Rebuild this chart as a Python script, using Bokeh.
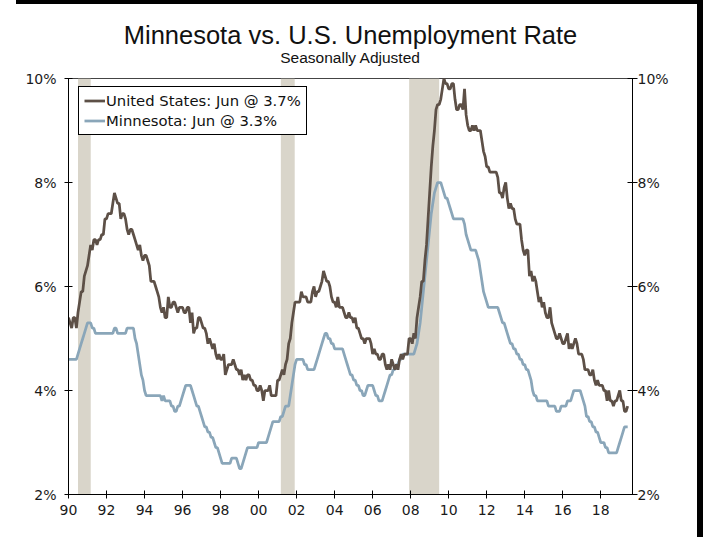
from bokeh.plotting import figure
from bokeh.models import Range1d, LinearAxis, FixedTicker, Legend, LegendItem, Title, Div
from bokeh.layouts import column, row
from bokeh.embed import file_html
from bokeh.resources import INLINE

start_year = 1990

# U.S. unemployment rate, monthly, one row per year (%)
us_rate = [
    [5.4, 5.3, 5.2, 5.4, 5.4, 5.2, 5.5, 5.7, 5.9, 5.9, 6.2, 6.3],
    [6.4, 6.6, 6.8, 6.7, 6.9, 6.9, 6.8, 6.9, 6.9, 7.0, 7.0, 7.3],
    [7.3, 7.4, 7.4, 7.4, 7.6, 7.8, 7.7, 7.6, 7.6, 7.3, 7.4, 7.4],
    [7.3, 7.1, 7.0, 7.1, 7.1, 7.0, 6.9, 6.8, 6.7, 6.8, 6.6, 6.5],
    [6.6, 6.6, 6.5, 6.4, 6.1, 6.1, 6.1, 6.0, 5.9, 5.8, 5.6, 5.5],
    [5.6, 5.4, 5.4, 5.8, 5.6, 5.6, 5.7, 5.7, 5.6, 5.5, 5.6, 5.6],
    [5.6, 5.5, 5.5, 5.6, 5.6, 5.3, 5.5, 5.1, 5.2, 5.2, 5.4, 5.4],
    [5.3, 5.2, 5.2, 5.1, 4.9, 5.0, 4.9, 4.8, 4.9, 4.7, 4.6, 4.7],
    [4.6, 4.6, 4.7, 4.3, 4.4, 4.5, 4.5, 4.5, 4.6, 4.5, 4.4, 4.4],
    [4.3, 4.4, 4.2, 4.3, 4.2, 4.3, 4.3, 4.2, 4.2, 4.1, 4.1, 4.0],
    [4.0, 4.1, 4.0, 3.8, 4.0, 4.0, 4.0, 4.1, 3.9, 3.9, 3.9, 3.9],
    [4.2, 4.2, 4.3, 4.4, 4.3, 4.5, 4.6, 4.9, 5.0, 5.3, 5.5, 5.7],
    [5.7, 5.7, 5.7, 5.9, 5.8, 5.8, 5.8, 5.7, 5.7, 5.7, 5.9, 6.0],
    [5.8, 5.9, 5.9, 6.0, 6.1, 6.3, 6.2, 6.1, 6.1, 6.0, 5.8, 5.7],
    [5.7, 5.6, 5.8, 5.6, 5.6, 5.6, 5.5, 5.4, 5.4, 5.5, 5.4, 5.4],
    [5.3, 5.4, 5.2, 5.2, 5.1, 5.0, 5.0, 4.9, 5.0, 5.0, 5.0, 4.9],
    [4.7, 4.8, 4.7, 4.7, 4.6, 4.6, 4.7, 4.7, 4.5, 4.4, 4.5, 4.4],
    [4.6, 4.5, 4.4, 4.5, 4.4, 4.6, 4.7, 4.6, 4.7, 4.7, 4.7, 5.0],
    [5.0, 4.9, 5.1, 5.0, 5.4, 5.6, 5.8, 6.1, 6.1, 6.5, 6.8, 7.3],
    [7.8, 8.3, 8.7, 9.0, 9.4, 9.5, 9.5, 9.6, 9.8, 10.0, 9.9, 9.9],
    [9.8, 9.8, 9.9, 9.9, 9.6, 9.4, 9.4, 9.5, 9.5, 9.4, 9.8, 9.3],
    [9.1, 9.0, 9.0, 9.1, 9.0, 9.1, 9.0, 9.0, 9.0, 8.8, 8.6, 8.5],
    [8.3, 8.3, 8.2, 8.2, 8.2, 8.2, 8.2, 8.1, 7.8, 7.8, 7.7, 7.9],
    [8.0, 7.7, 7.5, 7.6, 7.5, 7.5, 7.3, 7.2, 7.2, 7.2, 6.9, 6.7],
    [6.6, 6.7, 6.7, 6.2, 6.3, 6.1, 6.2, 6.1, 5.9, 5.7, 5.8, 5.6],
    [5.7, 5.5, 5.4, 5.4, 5.6, 5.3, 5.2, 5.1, 5.0, 5.0, 5.1, 5.0],
    [4.9, 4.9, 5.0, 5.1, 4.8, 4.9, 4.8, 4.9, 5.0, 4.9, 4.7, 4.7],
    [4.7, 4.6, 4.4, 4.4, 4.4, 4.3, 4.3, 4.4, 4.2, 4.1, 4.2, 4.1],
    [4.1, 4.1, 4.0, 4.0, 3.8, 4.0, 3.8, 3.8, 3.7, 3.8, 3.8, 3.9],
    [4.0, 3.8, 3.8, 3.6, 3.6, 3.7],
]

# Minnesota unemployment rate, monthly, one row per year (%)
mn_rate = [
    [4.6, 4.6, 4.6, 4.6, 4.6, 4.6, 4.7, 4.8, 4.9, 5.0, 5.1, 5.2],
    [5.3, 5.3, 5.3, 5.2, 5.2, 5.1, 5.1, 5.1, 5.1, 5.1, 5.1, 5.1],
    [5.1, 5.1, 5.1, 5.1, 5.1, 5.2, 5.2, 5.1, 5.1, 5.1, 5.1, 5.1],
    [5.1, 5.2, 5.2, 5.2, 5.2, 5.2, 5.0, 4.9, 4.7, 4.5, 4.3, 4.2],
    [4.0, 3.9, 3.9, 3.9, 3.9, 3.9, 3.9, 3.9, 3.9, 3.9, 3.9, 3.8],
    [3.9, 3.8, 3.8, 3.8, 3.8, 3.7, 3.7, 3.6, 3.6, 3.7, 3.7, 3.8],
    [3.9, 4.0, 4.1, 4.1, 4.1, 4.1, 4.0, 3.9, 3.8, 3.7, 3.7, 3.6],
    [3.5, 3.4, 3.3, 3.3, 3.2, 3.2, 3.1, 3.1, 3.0, 2.9, 2.9, 2.8],
    [2.7, 2.6, 2.6, 2.6, 2.6, 2.6, 2.6, 2.7, 2.7, 2.7, 2.7, 2.6],
    [2.5, 2.5, 2.6, 2.7, 2.8, 2.9, 2.9, 2.9, 2.9, 2.9, 2.9, 2.9],
    [3.0, 3.0, 3.0, 3.0, 3.0, 3.0, 3.1, 3.2, 3.3, 3.4, 3.4, 3.4],
    [3.4, 3.4, 3.5, 3.5, 3.6, 3.7, 3.7, 3.7, 3.9, 4.1, 4.3, 4.5],
    [4.6, 4.6, 4.6, 4.6, 4.6, 4.5, 4.5, 4.4, 4.4, 4.4, 4.4, 4.4],
    [4.5, 4.6, 4.7, 4.8, 4.9, 5.0, 5.1, 5.1, 5.0, 5.0, 4.9, 4.9],
    [4.8, 4.8, 4.8, 4.8, 4.8, 4.8, 4.7, 4.6, 4.5, 4.4, 4.3, 4.3],
    [4.2, 4.2, 4.1, 4.1, 4.0, 4.0, 3.9, 3.9, 4.0, 4.1, 4.1, 4.1],
    [4.1, 4.0, 3.9, 3.9, 3.8, 3.8, 3.8, 3.9, 4.0, 4.1, 4.2, 4.3],
    [4.3, 4.4, 4.4, 4.5, 4.5, 4.6, 4.6, 4.7, 4.7, 4.7, 4.7, 4.7],
    [4.7, 4.7, 4.7, 4.8, 4.9, 5.1, 5.3, 5.6, 5.9, 6.2, 6.5, 6.8],
    [7.1, 7.4, 7.6, 7.8, 7.9, 8.0, 8.0, 8.0, 7.9, 7.8, 7.7, 7.7],
    [7.6, 7.5, 7.4, 7.3, 7.3, 7.3, 7.3, 7.3, 7.3, 7.3, 7.2, 7.0],
    [6.9, 6.8, 6.7, 6.7, 6.7, 6.7, 6.6, 6.5, 6.3, 6.1, 5.9, 5.8],
    [5.7, 5.6, 5.6, 5.6, 5.6, 5.6, 5.6, 5.6, 5.5, 5.4, 5.3, 5.3],
    [5.2, 5.1, 5.0, 4.9, 4.9, 4.8, 4.8, 4.7, 4.7, 4.6, 4.6, 4.5],
    [4.5, 4.4, 4.4, 4.3, 4.2, 4.0, 3.9, 3.9, 3.8, 3.8, 3.8, 3.8],
    [3.8, 3.8, 3.8, 3.7, 3.7, 3.7, 3.7, 3.7, 3.6, 3.6, 3.6, 3.7],
    [3.7, 3.7, 3.7, 3.8, 3.8, 3.8, 3.9, 4.0, 4.0, 4.0, 4.0, 4.0],
    [3.9, 3.8, 3.7, 3.5, 3.5, 3.4, 3.4, 3.3, 3.3, 3.2, 3.2, 3.1],
    [3.0, 3.0, 3.0, 2.9, 2.9, 2.8, 2.8, 2.8, 2.8, 2.8, 2.8, 2.9],
    [3.0, 3.1, 3.2, 3.3, 3.3, 3.3],
]

# Recession periods (fractional years)
rec_start = [1990.5, 2001.17, 2007.92]
rec_end = [1991.17, 2001.9, 2009.5]

x_ticks = [1990, 1992, 1994, 1996, 1998, 2000, 2002, 2004, 2006, 2008, 2010, 2012, 2014, 2016, 2018]
x_tick_labels = ["90", "92", "94", "96", "98", "00", "02", "04", "06", "08", "10", "12", "14", "16", "18"]
y_ticks = [2, 4, 6, 8, 10]
y_tick_labels = ["2%", "4%", "6%", "8%", "10%"]

us_label = "United States: Jun @ 3.7%"
mn_label = "Minnesota: Jun @ 3.3%"
title_text = "Minnesota vs. U.S. Unemployment Rate"
subtitle_text = "Seasonally Adjusted"


def to_xy(rows):
    xs, ys = [], []
    for i, r in enumerate(rows):
        for m, v in enumerate(r):
            xs.append(start_year + i + m / 12.0)
            ys.append(v)
    return xs, ys


us_x, us_y = to_xy(us_rate)
mn_x, mn_y = to_xy(mn_rate)

US_COLOR = "#5d5047"
MN_COLOR = "#8aa6b9"
REC_COLOR = "#d9d5ca"
TICK_FONT = "DejaVu Sans"

p = figure(width=697, height=533,
           x_range=Range1d(1990, 2019.67), y_range=Range1d(2, 10),
           output_backend="svg", toolbar_location=None,
           min_border_left=68, min_border_right=65, min_border_top=74, min_border_bottom=43,
           background_fill_color="white", border_fill_color="white")
p.outline_line_color = "#444444"
p.outline_line_width = 1
p.xgrid.visible = False
p.ygrid.visible = False

# recession shading
p.quad(left=rec_start, right=rec_end, bottom=[2] * len(rec_start), top=[10] * len(rec_start),
       fill_color=REC_COLOR, line_color=None)

mn_r = p.line(mn_x, mn_y, line_color=MN_COLOR, line_width=2.75)
us_r = p.line(us_x, us_y, line_color=US_COLOR, line_width=2.75)

# axes
xa = p.xaxis[0]
xa.ticker = FixedTicker(ticks=x_ticks)
xa.major_label_overrides = {t: l for t, l in zip(x_ticks, x_tick_labels)}
xa.minor_tick_line_color = None
xa.major_tick_in = 4
xa.major_tick_out = 4
xa.major_label_standoff = 6
xa.axis_line_color = "black"
xa.major_tick_line_color = "black"
xa.major_label_text_font = TICK_FONT
xa.major_label_text_font_size = "14px"
xa.major_label_text_color = "#1a1a1a"

ya = p.yaxis[0]
ya.ticker = FixedTicker(ticks=y_ticks)
ya.major_label_overrides = {t: l for t, l in zip(y_ticks, y_tick_labels)}
ya.minor_tick_line_color = None
ya.major_tick_in = 4
ya.major_tick_out = 4
ya.major_label_standoff = 8
ya.axis_line_color = "black"
ya.major_tick_line_color = "black"
ya.major_label_text_font = TICK_FONT
ya.major_label_text_font_size = "14px"
ya.major_label_text_color = "#1a1a1a"

ra = LinearAxis(ticker=FixedTicker(ticks=y_ticks),
                major_label_overrides={t: l for t, l in zip(y_ticks, y_tick_labels)})
ra.minor_tick_line_color = None
ra.major_tick_in = 5
ra.major_tick_out = 5
ra.major_label_standoff = 0
ra.axis_line_color = "black"
ra.major_tick_line_color = "black"
ra.major_label_text_font = TICK_FONT
ra.major_label_text_font_size = "14px"
ra.major_label_text_color = "#1a1a1a"
p.add_layout(ra, "right")

# titles
p.add_layout(Title(text=subtitle_text, align="center", text_font="Liberation Sans",
                   text_font_size="15.5px", text_font_style="normal", text_color="#111111",
                   standoff=25), "above")
p.add_layout(Title(text=title_text, align="center", text_font="Liberation Sans",
                   text_font_size="25.5px", text_font_style="normal", text_color="#111111",
                   standoff=-29), "above")

legend = Legend(items=[LegendItem(label=us_label, renderers=[us_r]),
                       LegendItem(label=mn_label, renderers=[mn_r])],
                location=(10, 359), orientation="vertical",
                border_line_color="black", border_line_width=1, border_line_alpha=1,
                background_fill_color="white", background_fill_alpha=1,
                label_text_font=TICK_FONT, label_text_font_size="14.8px", label_text_color="#111111",
                glyph_width=21, glyph_height=17, label_height=17, label_standoff=1,
                padding=5, spacing=3, margin=0)
p.add_layout(legend, "center")

top_bar = Div(text="", width=687, height=4, margin=(0, 0, 0, 16),
              styles={"background-color": "black"})
right_bar = Div(text="", width=6, height=533, margin=0,
                styles={"background-color": "black"})

layout = column(top_bar, row(p, right_bar, spacing=0), spacing=0)

with open("out.html", "w") as f:
    f.write(file_html(layout, INLINE))
